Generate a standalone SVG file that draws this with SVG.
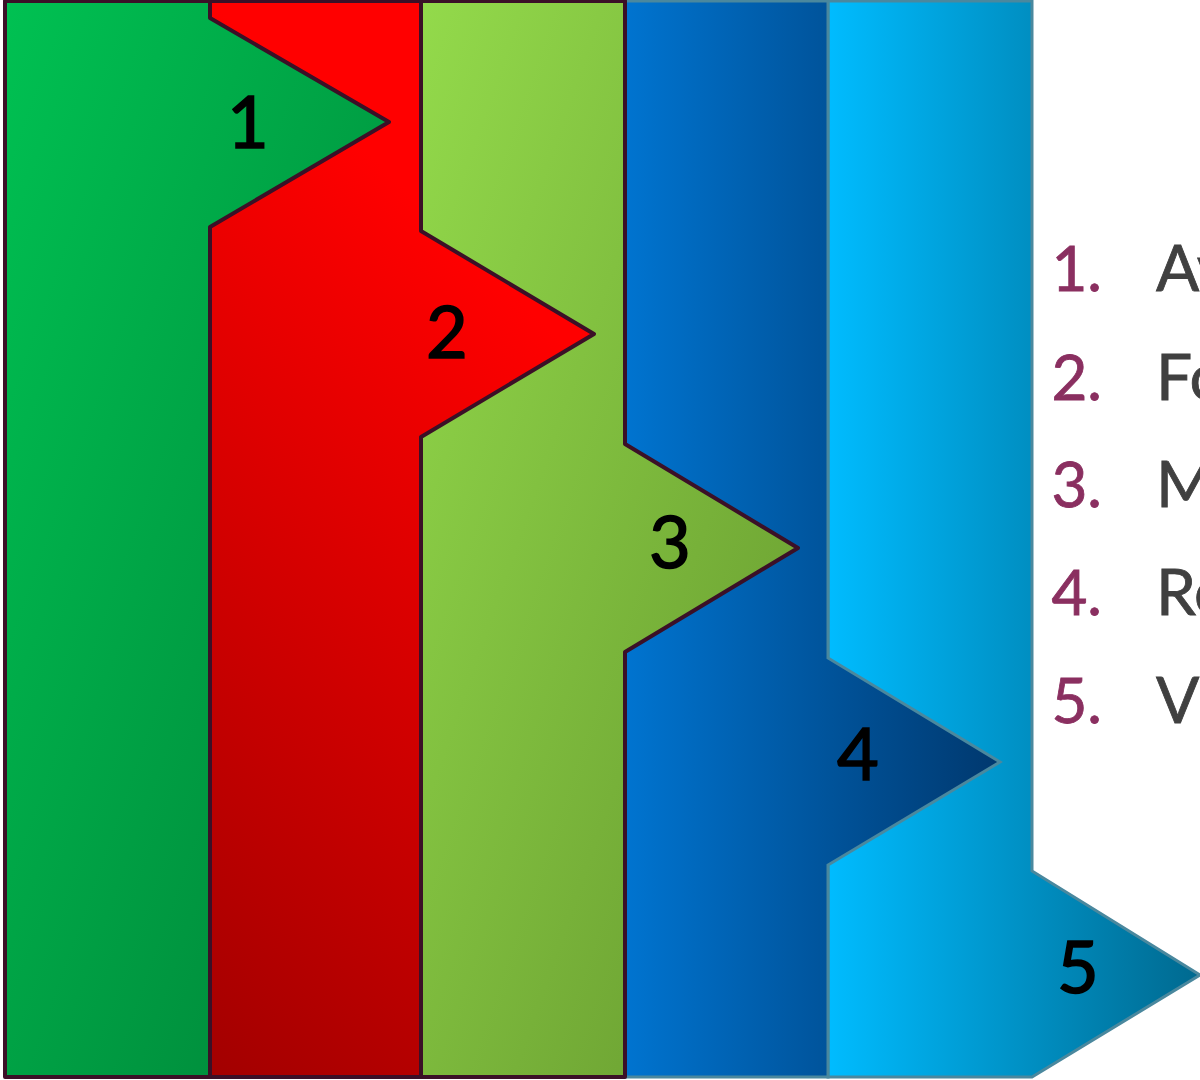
<svg xmlns="http://www.w3.org/2000/svg" width="1200" height="1080" viewBox="0 0 1200 1080">
<defs>
<linearGradient id="g1" x1="0" y1="0" x2="1" y2="1"><stop offset="0" stop-color="#00c152"/><stop offset="1" stop-color="#008237"/></linearGradient>
<linearGradient id="g2" gradientUnits="userSpaceOnUse" x1="210" y1="0" x2="-329" y2="556"><stop offset="0" stop-color="#ff0000"/><stop offset="1" stop-color="#a20000"/></linearGradient>
<linearGradient id="g3" x1="0" y1="0" x2="1" y2="1"><stop offset="0" stop-color="#93da4b"/><stop offset="1" stop-color="#66982e"/></linearGradient>
<linearGradient id="g4" x1="0" y1="0" x2="1" y2="0"><stop offset="0" stop-color="#0074d0"/><stop offset="1" stop-color="#00386e"/></linearGradient>
<linearGradient id="g5" x1="0" y1="0" x2="1" y2="0"><stop offset="0" stop-color="#00bcff"/><stop offset="1" stop-color="#00698f"/></linearGradient>
</defs>
<style>
.dk{stroke:#3b1027;stroke-width:4;stroke-linejoin:round;stroke-linecap:round}
.bl{stroke:#4a889e;stroke-width:3;stroke-linejoin:miter}
.num{font-family:Lato,"Open Sans",sans-serif;font-size:72px;fill:#000;stroke:#000;stroke-width:1.6;text-anchor:middle}
.ln{font-family:Lato,"Open Sans",sans-serif;font-size:62px;fill:#8a2f60;stroke:#8a2f60;stroke-width:0.8;text-anchor:end}
.lt{font-family:Lato,"Open Sans",sans-serif;font-size:64px;fill:#404040;stroke:#404040;stroke-width:0.8}
</style>
<g id="node5"><path class="bl" fill="url(#g5)" d="M828,1 H1032 V871 L1200,975 L1032,1077 H828 Z"/><text class="num" x="1078" y="993">5</text></g>
<g id="node4"><path class="bl" fill="url(#g4)" d="M625,1 H828 V658 L1000,762 L828,865 V1077 H625 Z"/><text class="num" x="858" y="780">4</text></g>
<g id="node3"><path class="dk" fill="url(#g3)" d="M421,1 H625 V444 L798,548 L625,652 V1077 H421 Z"/><text class="num" x="670" y="568">3</text></g>
<g id="node2"><path class="dk" fill="url(#g2)" d="M210,1 H421 V231 L594,334 L421,437 V1077 H210 Z"/><text class="num" x="447" y="358">2</text></g>
<g id="node1"><path class="dk" fill="url(#g1)" d="M5,1 H210 V18 L389,122 L210,227 V1077 H5 Z"/><text class="num" x="248" y="148">1</text></g>
<g id="connectors"></g>
<g id="list">
<text class="ln" x="1102" y="291">1.</text><text class="lt" x="1156" y="291">Av</text>
<text class="ln" x="1102" y="400">2.</text><text class="lt" x="1156" y="400">Fo</text>
<text class="ln" x="1102" y="507">3.</text><text class="lt" x="1156" y="507">M</text>
<text class="ln" x="1102" y="615">4.</text><text class="lt" x="1156" y="615">Re</text>
<text class="ln" x="1102" y="723">5.</text><text class="lt" x="1156" y="723">Vi</text>
</g>
</svg>
